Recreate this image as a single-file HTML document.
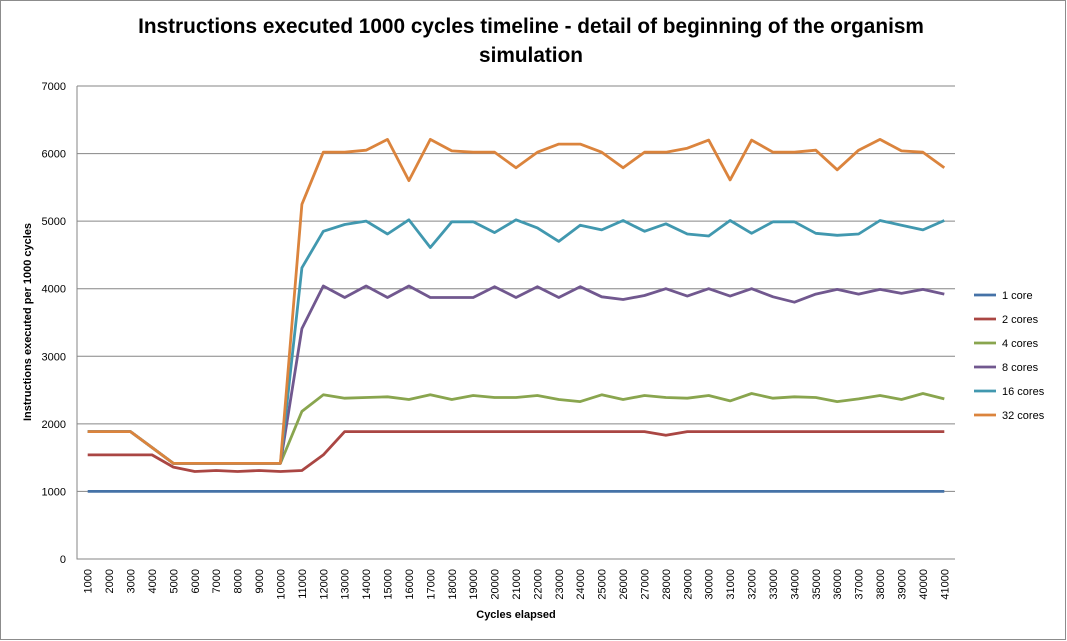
<!DOCTYPE html>
<html><head><meta charset="utf-8"><style>
body{margin:0;background:#fff;}
svg{display:block;font-family:"Liberation Sans",Arial,sans-serif;}
</style></head><body>
<svg id="chart" width="1067" height="641" viewBox="0 0 1067 641">
<rect x="0.5" y="0.5" width="1065" height="639" fill="#fff" stroke="#8c8c8c"/>
<text x="531" y="33" text-anchor="middle" font-size="20.8" font-weight="bold">Instructions executed 1000 cycles timeline - detail of beginning of the organism</text>
<text x="531" y="62" text-anchor="middle" font-size="20.8" font-weight="bold">simulation</text>
<text transform="translate(31,322) rotate(-90)" text-anchor="middle" font-size="11" font-weight="bold">Instructions executed per 1000 cycles</text>
<text x="516" y="618" text-anchor="middle" font-size="11" font-weight="bold">Cycles elapsed</text>
<g id="grid"></g><g id="axes"></g><g id="series"></g><g id="legend"></g>
</svg>
<script>
const categories=[1000,2000,3000,4000,5000,6000,7000,8000,9000,10000,11000,12000,13000,14000,15000,16000,17000,18000,19000,20000,21000,22000,23000,24000,25000,26000,27000,28000,29000,30000,31000,32000,33000,34000,35000,36000,37000,38000,39000,40000,41000];
const yTicks=[0,1000,2000,3000,4000,5000,6000,7000];
const seriesNames=["1 core","2 cores","4 cores","8 cores","16 cores","32 cores"];
const seriesColors=["#4572a7","#aa4643","#89a54e","#71588f","#4198af","#db843d"];
const core1=[1000,1000,1000,1000,1000,1000,1000,1000,1000,1000,1000,1000,1000,1000,1000,1000,1000,1000,1000,1000,1000,1000,1000,1000,1000,1000,1000,1000,1000,1000,1000,1000,1000,1000,1000,1000,1000,1000,1000,1000,1000];
const core2=[1540,1540,1540,1540,1360,1295,1310,1295,1310,1295,1310,1540,1885,1885,1885,1885,1885,1885,1885,1885,1885,1885,1885,1885,1885,1885,1885,1830,1885,1885,1885,1885,1885,1885,1885,1885,1885,1885,1885,1885,1885];
const core4=[1885,1885,1885,1650,1415,1415,1415,1415,1415,1415,2185,2430,2380,2390,2400,2360,2430,2360,2420,2390,2390,2420,2360,2330,2430,2360,2420,2390,2380,2420,2340,2450,2380,2400,2390,2330,2370,2420,2360,2450,2370];
const core8=[1885,1885,1885,1650,1415,1415,1415,1415,1415,1415,3410,4040,3870,4040,3870,4040,3870,3870,3870,4030,3870,4030,3870,4030,3880,3840,3900,4000,3890,4000,3890,4000,3880,3800,3920,3990,3920,3990,3930,3990,3920];
const core16=[1885,1885,1885,1650,1415,1415,1415,1415,1415,1415,4310,4850,4950,5000,4810,5020,4610,4990,4990,4830,5020,4900,4700,4940,4870,5010,4850,4960,4810,4780,5010,4820,4990,4990,4820,4790,4810,5010,4940,4870,5010];
const core32=[1885,1885,1885,1650,1415,1415,1415,1415,1415,1415,5250,6020,6020,6050,6210,5600,6210,6040,6020,6020,5790,6020,6140,6140,6020,5790,6020,6020,6080,6200,5610,6200,6020,6020,6050,5760,6050,6210,6040,6020,5790];
const seriesValues=[core1,core2,core4,core8,core16,core32];

const NS="http://www.w3.org/2000/svg";
const L=77,R=955,T=86,B=559,yMax=7000;
const bw=(R-L)/categories.length;
const xPos=i=>L+bw*(i+0.5);
const yPos=v=>B-(v/yMax)*(B-T);
function mk(tag,parent,attrs){const e=document.createElementNS(NS,tag);for(const k in attrs)e.setAttribute(k,attrs[k]);parent.appendChild(e);return e;}
const grid=document.getElementById('grid'),axes=document.getElementById('axes'),ser=document.getElementById('series'),leg=document.getElementById('legend');
yTicks.forEach(t=>{
  const y=yPos(t);
  if(t>0){const g=mk('line',grid,{x1:L,x2:R,y1:y,y2:y,stroke:'#868686','stroke-width':1});
  
  }
  const tx=mk('text',axes,{x:L-11,y:y+4,'text-anchor':'end','font-size':11});
  tx.textContent=t;
  
  
});
const ax=mk('path',axes,{d:`M${L},${T} V${B} H${R}`,fill:'none',stroke:'#868686','stroke-width':1});


categories.forEach((c,i)=>{
  const x=xPos(i)+4;
  const tx=mk('text',axes,{transform:`translate(${x},569) rotate(-90)`,'text-anchor':'end','font-size':11});
  tx.textContent=c;
  
  
});
seriesValues.forEach((vals,s)=>{
  const pts=vals.map((v,i)=>xPos(i).toFixed(1)+','+yPos(v).toFixed(1)).join(' ');
  const pl=mk('polyline',ser,{points:pts,fill:'none',stroke:seriesColors[s],'stroke-width':2.8,'stroke-linejoin':'round'});
  
  
  const ly=295+s*24;
  const g=mk('g',leg,{});
  
  
  mk('line',g,{x1:974,x2:996,y1:ly,y2:ly,stroke:seriesColors[s],'stroke-width':2.8});
  const t=mk('text',g,{x:1002,y:ly+4,'font-size':11});
  t.textContent=seriesNames[s];
});
</script>
</body></html>
